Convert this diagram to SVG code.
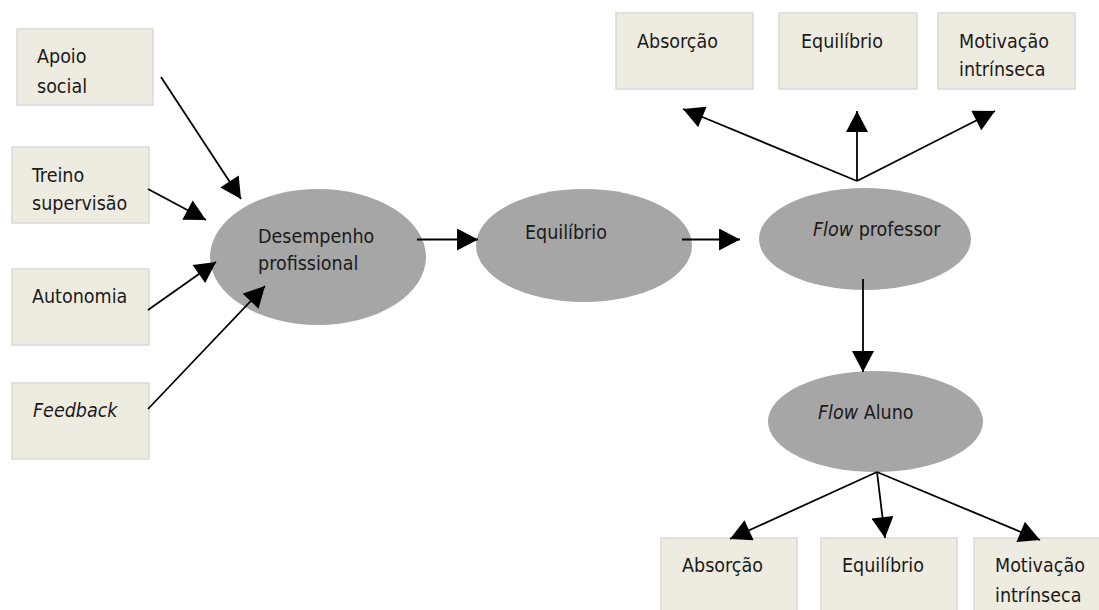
<svg xmlns="http://www.w3.org/2000/svg" width="1099" height="610" viewBox="0 0 1099 610">
<style>
.box{fill:#EEECE1;stroke:#D9D9D9;stroke-width:1.5}
.ell{fill:#A6A6A6}
.t{font-family:"DejaVu Sans Condensed","DejaVu Sans","Liberation Sans",sans-serif;font-stretch:condensed;font-size:19.5px;fill:#1a1a1a}
.i{font-style:italic}
.c line{stroke:#000;stroke-width:1.8;marker-end:url(#ah)}
</style>
<defs>
<marker id="ah" markerUnits="userSpaceOnUse" markerWidth="22" markerHeight="22" viewBox="0 0 20 21" refX="20" refY="10.5" orient="auto">
<path d="M0,0 L20,10.5 L0,21 z" fill="#000"/>
</marker>
</defs>
<rect width="1099" height="610" fill="#fff"/>
<g id="apoio"><rect class="box" x="17" y="29" width="136" height="76"/><text class="t" x="37" y="63">Apoio</text><text class="t" x="37" y="93">social</text></g>
<g id="treino"><rect class="box" x="12" y="147" width="137" height="76"/><text class="t" x="32" y="182">Treino</text><text class="t" x="32" y="210">supervisão</text></g>
<g id="autonomia"><rect class="box" x="12" y="269" width="137" height="76"/><text class="t" x="32" y="303">Autonomia</text></g>
<g id="feedback"><rect class="box" x="12" y="383" width="137" height="76"/><text class="t i" x="33" y="417">Feedback</text></g>
<g id="desempenho"><ellipse class="ell" cx="318" cy="257" rx="108" ry="68"/><text class="t" x="258" y="243">Desempenho</text><text class="t" x="258" y="270">profissional</text></g>
<g id="equilibrio"><ellipse class="ell" cx="584" cy="245.5" rx="108" ry="56.5"/><text class="t" x="525" y="239">Equilíbrio</text></g>
<g id="flowprof"><ellipse class="ell" cx="865" cy="239" rx="106" ry="51"/><text class="t" x="813" y="236"><tspan class="i">Flow</tspan> professor</text></g>
<g id="flowaluno"><ellipse class="ell" cx="875.5" cy="421.5" rx="107.5" ry="50.5"/><text class="t" x="818" y="419"><tspan class="i">Flow</tspan> Aluno</text></g>
<g id="absorcao1"><rect class="box" x="616" y="13" width="137" height="76"/><text class="t" x="637" y="48">Absorção</text></g>
<g id="equilibrio1"><rect class="box" x="779" y="13" width="138" height="76"/><text class="t" x="801" y="48">Equilíbrio</text></g>
<g id="motivacao1"><rect class="box" x="938" y="13" width="137" height="76"/><text class="t" x="959" y="48">Motivação</text><text class="t" x="959" y="76">intrínseca</text></g>
<g id="absorcao2"><rect class="box" x="661" y="538" width="136" height="76"/><text class="t" x="682" y="572">Absorção</text></g>
<g id="equilibrio2"><rect class="box" x="821" y="538" width="136" height="76"/><text class="t" x="842" y="572">Equilíbrio</text></g>
<g id="motivacao2"><rect class="box" x="974" y="538" width="136" height="76"/><text class="t" x="995" y="572">Motivação</text><text class="t" x="995" y="602">intrínseca</text></g>
<g id="connectors" class="c">
<line x1="161" y1="77" x2="241" y2="199"/>
<line x1="148" y1="189" x2="206" y2="220"/>
<line x1="148" y1="310" x2="216" y2="262"/>
<line x1="148" y1="409" x2="265" y2="286"/>
<line x1="417" y1="239.5" x2="478" y2="239.5"/>
<line x1="682" y1="239.5" x2="740" y2="239.5"/>
<line x1="857" y1="181" x2="683" y2="109"/>
<line x1="857" y1="181" x2="857" y2="111"/>
<line x1="857" y1="181" x2="995" y2="111"/>
<line x1="863" y1="279" x2="863" y2="372"/>
<line x1="877" y1="472" x2="730" y2="539"/>
<line x1="877" y1="472" x2="885" y2="538"/>
<line x1="877" y1="472" x2="1040" y2="540"/>
</g>
</svg>
